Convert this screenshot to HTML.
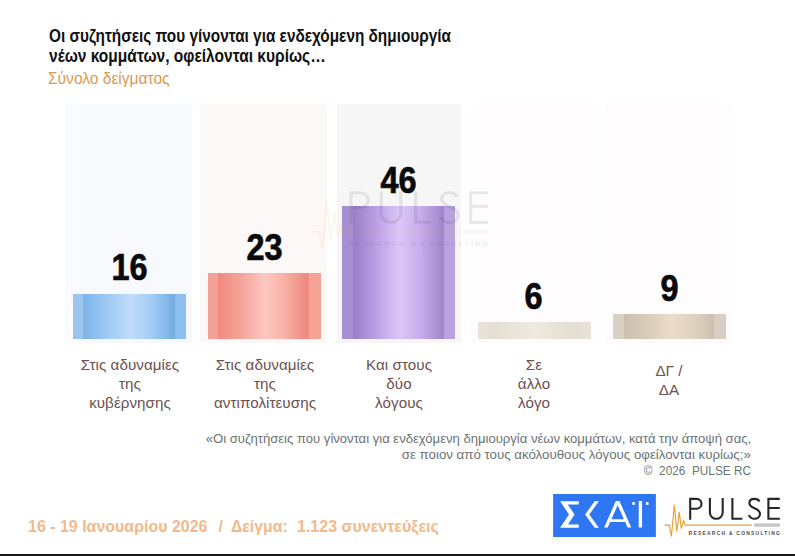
<!DOCTYPE html>
<html><head><meta charset="utf-8">
<style>
html,body{margin:0;padding:0;}
body{width:795px;height:556px;position:relative;overflow:hidden;background:#fff;font-family:"Liberation Sans",sans-serif;}
.a{position:absolute;white-space:nowrap;transform-origin:0 0;}
.title{left:48.5px;font-weight:bold;font-size:18px;color:#111;}
.sub{left:48px;font-size:17.3px;color:#da9a54;}
.panel{position:absolute;top:104px;height:239px;width:127px;}
.bar{position:absolute;width:113px;}
.val{position:absolute;font-weight:bold;font-size:36px;line-height:42px;color:#0a0a0a;text-align:center;width:113px;transform-origin:50% 0;transform:scaleX(0.9);-webkit-text-stroke:0.7px #0a0a0a;}
.lab{position:absolute;width:160px;text-align:center;font-size:15.2px;line-height:19.1px;color:#6d5151;letter-spacing:0.05px;}
.note{position:absolute;right:44px;text-align:right;font-size:13px;line-height:15.3px;color:#6b7373;white-space:nowrap;transform-origin:100% 0;}
.foot{top:516.7px;font-weight:bold;font-size:15.6px;line-height:19px;color:#f2b98b;}
.bottomline{position:absolute;left:0;top:554px;width:795px;height:2px;background:#181818;}
</style></head><body>

<div class="a title" id="t1" style="top:26.1px;transform:scaleX(0.853);">Οι συζητήσεις που γίνονται για ενδεχόμενη δημιουργία</div>
<div class="a title" id="t2" style="top:46.1px;transform:scaleX(0.863);">νέων κομμάτων, οφείλονται κυρίως…</div>
<div class="a sub" id="t3" style="top:67.5px;transform:scaleX(0.9);">Σύνολο δείγματος</div>

<div class="panel" style="left:64.5px;background:linear-gradient(90deg,#fafbfe 0,#fafbfe 12%,#f7f9fd 12%,#f7f9fd 100%);"></div>
<div class="panel" style="left:199.5px;background:#fdf8f8;"></div>
<div class="panel" style="left:336.5px;width:124.5px;background:#f7f6f7;"></div>
<div class="panel" style="left:469.5px;background:#fefcfd;"></div>
<div class="panel" style="left:604.5px;background:#fefcfd;"></div>

<!-- bars -->
<div class="bar" style="left:73px;top:294px;height:45px;background:linear-gradient(90deg,#9cc6ef 0,#9cc6ef 8.8%,#7cb3e8 8.8%,#9ac8f2 28%,#c0dcfa 51%,#a5cef4 68%,#8cc0ee 78%,#76ade0 89.8%,#8dc0f0 90.3%,#8dc0f0 100%);"></div>
<div class="bar" style="left:208px;top:273px;height:66px;background:linear-gradient(90deg,#f5a296 0,#f5a296 8.8%,#ef8a7c 8.8%,#f5a59b 30%,#fdc8c2 50%,#f8b0a7 68%,#ef887c 88%,#f5a397 90.3%,#f5a397 100%);"></div>
<div class="bar" style="left:342px;top:206px;height:133px;background:linear-gradient(90deg,#a690d1 0,#a690d1 10%,#9a7ec9 10%,#bea3e6 32%,#dcc6f8 51%,#c6acea 70%,#a283cc 90%,#b9a2dd 90.3%,#b9a2dd 100%);"></div>
<div class="bar" style="left:478px;top:322px;height:17px;background:linear-gradient(90deg,#e6e2da 0,#e6e2da 8.8%,#e4ddd1 8.8%,#efe9e0 50%,#e3dccf 90.3%,#e6e2da 90.3%,#e6e2da 100%);"></div>
<div class="bar" style="left:613px;top:314px;height:25px;background:linear-gradient(90deg,#d9d0c4 0,#d9d0c4 9.5%,#cdbfad 9.5%,#ddcfbd 35%,#ebdccb 52%,#dccfbe 75%,#cdbfae 89.5%,#d8cfc2 89.5%,#d8cfc2 100%);"></div>

<svg style="position:absolute;left:311px;top:187.2px;opacity:0.09;" width="184" height="63.3" viewBox="0 0 120.3 42.5" preserveAspectRatio="none"><use href="#pl"/></svg>
<div class="val" id="v1" style="left:73px;top:247px;">16</div>
<div class="val" id="v2" style="left:208px;top:227px;">23</div>
<div class="val" id="v3" style="left:342px;top:160px;">46</div>
<div class="val" id="v4" style="left:477px;top:276px;">6</div>
<div class="val" id="v5" style="left:613px;top:268px;">9</div>

<div class="lab" style="left:50px;top:355.25px;">Στις αδυναμίες<br>της<br>κυβέρνησης</div>
<div class="lab" style="left:185px;top:355.25px;">Στις αδυναμίες<br>της<br>αντιπολίτευσης</div>
<div class="lab" style="left:319px;top:355.25px;">Και στους<br>δύο<br>λόγους</div>
<div class="lab" style="left:454px;top:355.25px;">Σε<br>άλλο<br>λόγο</div>
<div class="lab" style="left:589px;top:360.5px;">ΔΓ /<br>ΔΑ</div>

<div class="note" id="n1" style="top:431px;transform:scaleX(1.006);">«Οι συζητήσεις που γίνονται για ενδεχόμενη δημιουργία νέων κομμάτων, κατά την άποψή σας,</div>
<div class="note" id="n2" style="top:447px;transform:scaleX(1.021);">σε ποιον από τους ακόλουθους λόγους οφείλονται κυρίως;»</div>
<div class="note" id="n3" style="top:463px;transform:scaleX(0.908);">©&nbsp; 2026&nbsp; PULSE RC</div>

<div class="a foot" id="f1" style="left:28.3px;transform:scaleX(1.024);">16 - 19 Ιανουαρίου 2026</div>
<div class="a foot" id="f2" style="left:218.5px;">/</div>
<div class="a foot" id="f3" style="left:230.5px;transform:scaleX(1.013);">Δείγμα:</div>
<div class="a foot" id="f4" style="left:296.5px;transform:scaleX(1.027);">1.123 συνεντεύξεις</div>

<!-- SKAI logo -->
<svg style="position:absolute;left:553.4px;top:494.2px;" width="103" height="43" viewBox="0 0 102.5 42.9">
<rect x="0" y="0" width="102.5" height="42.9" fill="#2e76f2"/>
<g fill="#fff">
<polygon points="6.95,7.21 25.53,7.21 25.53,10.36 14.6,10.36 21.4,20.43 14.9,30.51 25.53,30.51 25.53,33.66 6.95,33.66 15.8,20.43"/>
<polygon points="41.4,7.21 45.6,7.21 36.1,20.43 45.6,33.66 41.4,33.66 31.9,20.43"/>
<path fill-rule="evenodd" d="M50.9,33.4 L62.6,7 H66.2 L77.9,33.4 H74.3 L71.9,28 H56.9 L54.5,33.4 Z M58.2,25.1 H70.6 L64.4,11.2 Z"/>
<rect x="85.4" y="7" width="3.3" height="26.4"/>
<rect x="79" y="8.1" width="2.6" height="2.7"/>
<rect x="92.6" y="8.1" width="2.6" height="2.7"/>
</g>
</svg>

<!-- PULSE logo -->
<svg style="position:absolute;left:0;top:0;" width="0" height="0">
<defs>
<g id="pl">
<polyline points="0.5,30.1 5.4,30.1 7.4,41.5 10.3,9.8 12.8,36.5 15.3,16.8 17.3,33.6 19.7,25.7 21.2,30.1 87.7,30.1" fill="none" stroke="#eca034" stroke-width="1.15"/>
<g fill="none" stroke="#262626" stroke-width="2.1">
<path d="M26.2,24.7 V3.9 H32.5 A5,4.95 0 0 1 32.5,13.8 H26.2"/>
<path d="M45.9,2.9 V17.4 A6.4,6.4 0 0 0 58.7,17.4 V2.9"/>
<path d="M68.4,2.9 V23.7 H78.3"/>
<path d="M95.5,6.5 C94.5,4.5 92.5,3.9 90.5,3.9 C87.5,3.9 85.4,5.6 85.4,8.3 C85.4,14 96,12.5 96,18.8 C96,22 93.5,23.8 90.5,23.8 C87.8,23.8 85.8,22.5 84.9,20"/>
<path d="M115.8,3.9 H104.4 V23.8 H115.8 M104.4,13 H115.8"/>
</g>
<rect x="90.1" y="28.4" width="25.7" height="3.4" fill="#c6c6c6"/>
<text x="24.6" y="39.7" font-family="Liberation Sans" font-weight="bold" font-size="4.9" fill="#4a4a4a" textLength="91.2" lengthAdjust="spacing">RESEARCH &amp; CONSULTING</text>
</g>
</defs>
</svg>
<svg style="position:absolute;left:664px;top:495px;" width="120" height="42" viewBox="0 0 120 42"><use href="#pl"/></svg>
<div class="bottomline"></div>
</body></html>
